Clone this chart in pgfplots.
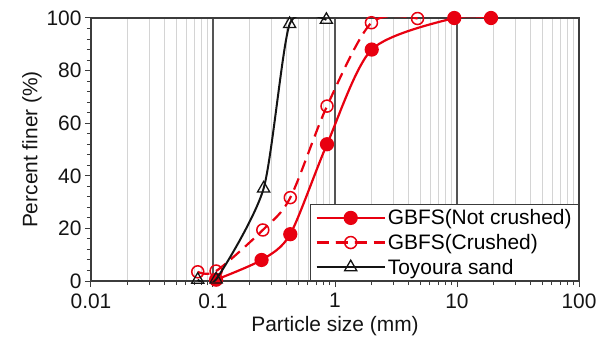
\documentclass[border=0pt]{standalone}
\usepackage{fontspec}
\setmainfont{Liberation Sans}
\usepackage{pgfplots}
\pgfplotsset{compat=1.18}
\definecolor{gred}{RGB}{232,0,16}
\definecolor{axgray}{RGB}{60,60,60}
\definecolor{mgray}{RGB}{85,85,85}
\definecolor{lgray}{RGB}{212,212,212}
\definecolor{tblack}{RGB}{20,20,20}
\begin{document}
\begin{tikzpicture}
\begin{axis}[name=ax,
  xmode=log, log basis x=10,
  scale only axis, width=488bp, height=263bp,
  xmin=0.01, xmax=100, ymin=0, ymax=100,
  xtick={0.01,0.1,1,10,100},
  xticklabels={0.01,0.1,1,10,100},
  minor xtick={0.02,0.03,0.04,0.05,0.06,0.07,0.08,0.09,
               0.2,0.3,0.4,0.5,0.6,0.7,0.8,0.9,
               2,3,4,5,6,7,8,9,
               20,30,40,50,60,70,80,90},
  ytick={0,20,40,60,80,100}, minor y tick num=4,
  xtick pos=bottom, ytick pos=left,
  tick align=outside, major tick length=6bp, minor tick length=4bp,
  xmajorgrids, xminorgrids,
  major grid style={mgray, line width=1.2bp},
  minor grid style={lgray, line width=0.8bp},
  axis line style={axgray, line width=1.3bp},
  every tick/.style={axgray, line width=1bp},
  font=\fontsize{21}{24}\selectfont,
  tick label style={font=\fontsize{21}{24}\selectfont, text=tblack},
  label style={font=\fontsize{21}{24}\selectfont, text=tblack},
  /pgf/number format/assume math mode=true,
  xticklabel style={yshift=-3bp},
  xlabel={Particle size (mm)},
  ylabel={Percent finer (\%)},
  xlabel style={yshift=-1bp},
  ylabel style={yshift=-2bp},
  clip mode=individual,
  legend cell align=left,
  legend style={at={(1,0)}, anchor=south east, draw=axgray, line width=1bp,
    font=\fontsize{21}{24}\selectfont, fill=white, inner xsep=5bp, inner ysep=3bp, row sep=4bp},
  legend image code/.code={
    \draw[mark repeat=2, mark phase=2, #1] plot coordinates {(0bp,0bp) (34bp,0bp) (68bp,0bp)};
  },
]
\addplot[gred, line width=2.2bp, smooth, tension=0.45, mark=*, mark size=6bp, mark options={solid, fill=gred}]
  coordinates {(0.106,0.5) (0.25,8) (0.43,17.8) (0.86,52) (2.0,88) (9.5,100) (19,100)};
\addlegendentry{GBFS(Not crushed)}
\addplot[gred, line width=2.2bp, dash pattern=on 12bp off 7bp, smooth, tension=0.5, mark=o, mark size=6bp, mark options={solid, fill=white, line width=1.5bp}]
  coordinates {(0.075,3.5) (0.106,3.8) (0.256,19.4) (0.43,31.7) (0.86,66.5) (1.99,98.2) (4.75,99.8)};
\addlegendentry{GBFS(Crushed)}
\addplot[tblack, line width=2bp, smooth, tension=0.4, mark=triangle, mark size=7bp, mark options={solid, fill=white, line width=1.3bp}]
  coordinates {(0.075,0.5) (0.106,0.6) (0.26,35.2) (0.425,97.7) (0.85,99.3)};
\addlegendentry{Toyoura sand}
\end{axis}
\pgfresetboundingbox
\path (ax.south west) ++(-91bp,-64bp) coordinate (bl);
\path (ax.north east) ++(20bp,18bp) coordinate (tr);
\path[use as bounding box] (bl) rectangle (tr);
\end{tikzpicture}
\end{document}
